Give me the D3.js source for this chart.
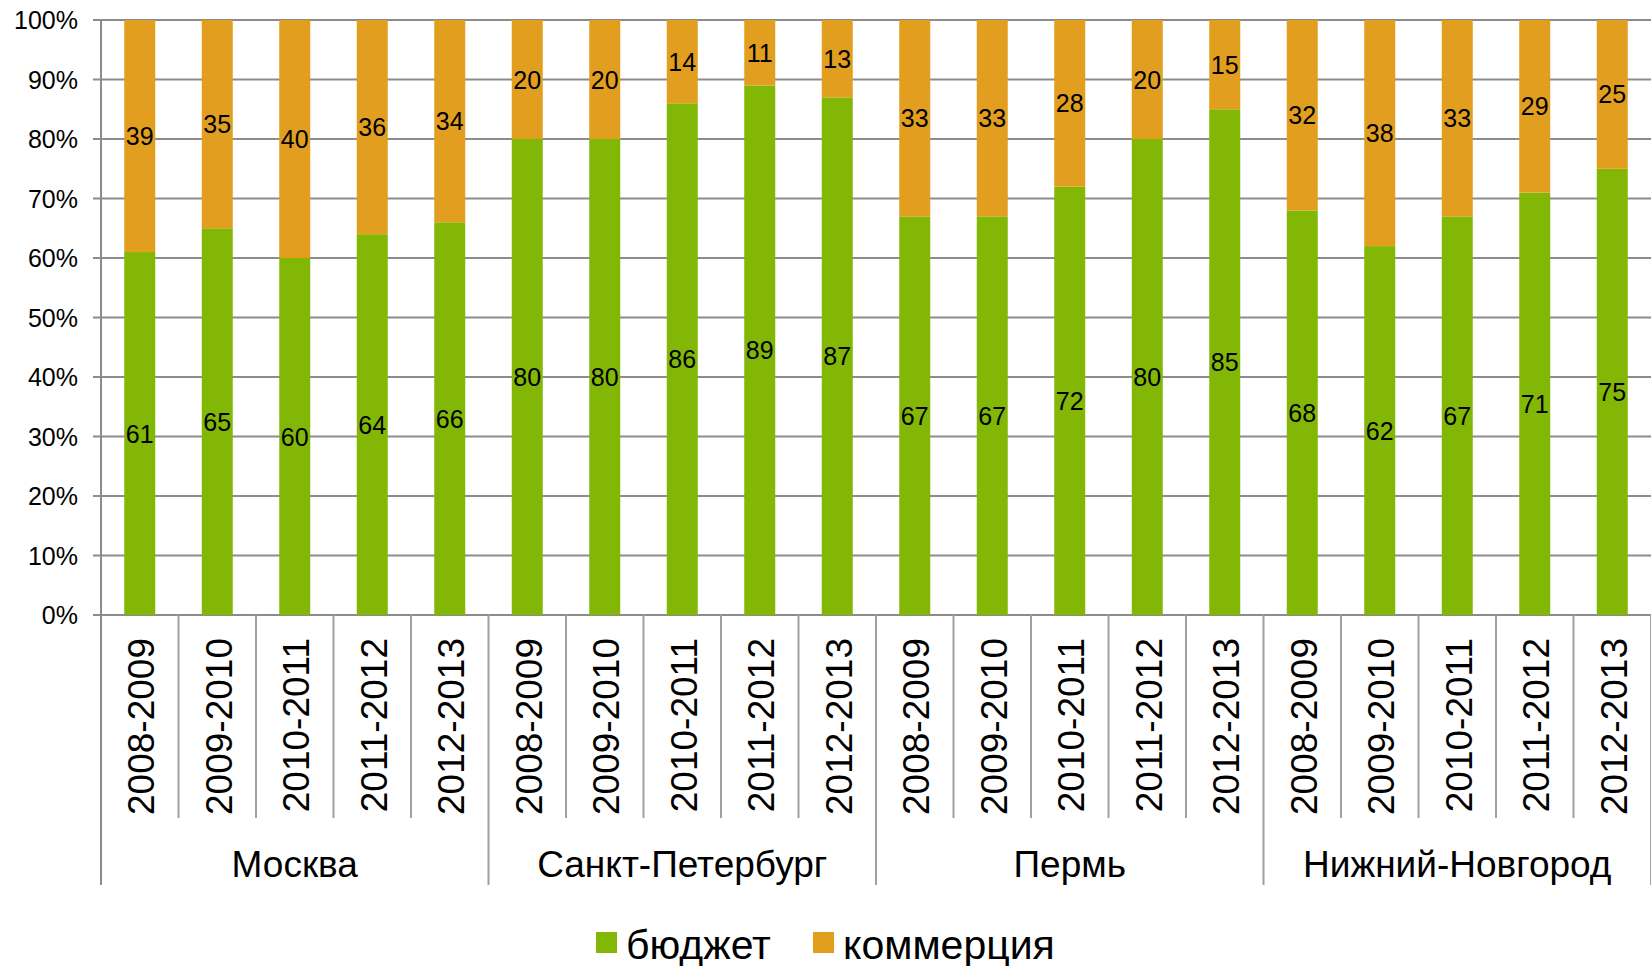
<!DOCTYPE html>
<html>
<head>
<meta charset="utf-8">
<script src="https://cdn.jsdelivr.net/npm/d3@7"></script>
<style>
  body { margin: 0; background: #fff; }
  text { font-family: "Liberation Sans", Arial, sans-serif; fill: #000; }
</style>
</head>
<body>
<div id="chart"></div>
<script>
// data
const cities = ["Москва", "Санкт-Петербург", "Пермь", "Нижний-Новгород"]
const years = ["2008-2009", "2009-2010", "2010-2011", "2011-2012", "2012-2013"]
const budget = [61, 65, 60, 64, 66, 80, 80, 86, 89, 87, 67, 67, 72, 80, 85, 68, 62, 67, 71, 75]
const commerce = [39, 35, 40, 36, 34, 20, 20, 14, 11, 13, 33, 33, 28, 20, 15, 32, 38, 33, 29, 25]
const yTicks = [0, 10, 20, 30, 40, 50, 60, 70, 80, 90, 100]
const seriesNames = ["бюджет", "коммерция"]
const colors = ["#83b706", "#e29f1f"]

const width = 1651
const height = 966
const margin = { top: 20, right: 0, bottom: 351, left: 101 }

const rows = []
cities.forEach((c, ci) => {
    years.forEach((y, yi) => {
        const i = ci * years.length + yi
        rows.push({ key: c + "|" + y, city: c, year: y, budget: budget[i], commerce: commerce[i] })
    })
})

const svg = d3.select("#chart")
    .append("svg")
    .attr("width", width)
    .attr("height", height)

const x = d3.scaleBand()
    .domain(rows.map(d => d.key))
    .range([margin.left, width - margin.right])
    .padding(0)

const y = d3.scaleLinear()
    .domain([0, 100])
    .range([height - margin.bottom, margin.top])

const barW = x.bandwidth() * 0.4
const y0 = y(0)

// gridlines + y ticks
svg.append("g")
    .selectAll("line")
    .data(yTicks)
    .join("line")
    .attr("x1", margin.left - 8)
    .attr("x2", width - margin.right)
    .attr("y1", d => y(d))
    .attr("y2", d => y(d))
    .attr("stroke", "#8c8c8c")
    .attr("stroke-width", 2)

svg.append("g")
    .selectAll("text")
    .data(yTicks)
    .join("text")
    .attr("x", margin.left - 23)
    .attr("y", d => y(d))
    .attr("dy", "0.36em")
    .attr("text-anchor", "end")
    .attr("font-size", 25)
    .text(d => d + "%")

// stacked bars
const stack = d3.stack().keys(["budget", "commerce"])(rows)

const layers = svg.append("g")
    .selectAll("g")
    .data(stack)
    .join("g")
    .attr("fill", (d, i) => colors[i])

layers.selectAll("rect")
    .data(d => d)
    .join("rect")
    .attr("x", d => x(d.data.key) + (x.bandwidth() - barW) / 2)
    .attr("y", d => y(d[1]))
    .attr("width", barW)
    .attr("height", d => y(d[0]) - y(d[1]))

layers.selectAll("text")
    .data(d => d)
    .join("text")
    .attr("x", d => x(d.data.key) + x.bandwidth() / 2)
    .attr("y", d => y((d[0] + d[1]) / 2))
    .attr("dy", "0.36em")
    .attr("text-anchor", "middle")
    .attr("font-size", 25)
    .text(d => d[1] - d[0])

// axis lines
svg.append("line")
    .attr("x1", margin.left).attr("x2", margin.left)
    .attr("y1", margin.top).attr("y2", 885)
    .attr("stroke", "#8c8c8c").attr("stroke-width", 2)

// category separators
const seps = d3.range(1, rows.length + 1)
svg.append("g")
    .selectAll("line")
    .data(seps)
    .join("line")
    .attr("x1", i => margin.left + i * x.step())
    .attr("x2", i => margin.left + i * x.step())
    .attr("y1", y0)
    .attr("y2", i => i % years.length === 0 ? 885 : 818)
    .attr("stroke", "#a0a0a0")
    .attr("stroke-width", 2)

// year labels
svg.append("g")
    .selectAll("text")
    .data(rows)
    .join("text")
    .attr("transform", d => `translate(${x(d.key) + x.bandwidth() / 2 + 1},${y0 + 23}) rotate(-90)`)
    .attr("dy", "0.36em")
    .attr("text-anchor", "end")
    .attr("font-size", 37)
    .text(d => d.year)

// city labels
svg.append("g")
    .selectAll("text")
    .data(cities)
    .join("text")
    .attr("x", (d, i) => margin.left + (i + 0.5) * years.length * x.step())
    .attr("y", 877)
    .attr("text-anchor", "middle")
    .attr("font-size", 37)
    .text(d => d)

// legend
const legendX = [596, 813]
const legend = svg.append("g")
    .selectAll("g")
    .data(seriesNames)
    .join("g")
    .attr("transform", (d, i) => `translate(${legendX[i]},932)`)

legend.append("rect")
    .attr("width", 21)
    .attr("height", 21)
    .attr("fill", (d, i) => colors[i])

legend.append("text")
    .attr("x", 30)
    .attr("y", 27)
    .attr("font-size", 41)
    .text(d => d)
</script>
</body>
</html>
